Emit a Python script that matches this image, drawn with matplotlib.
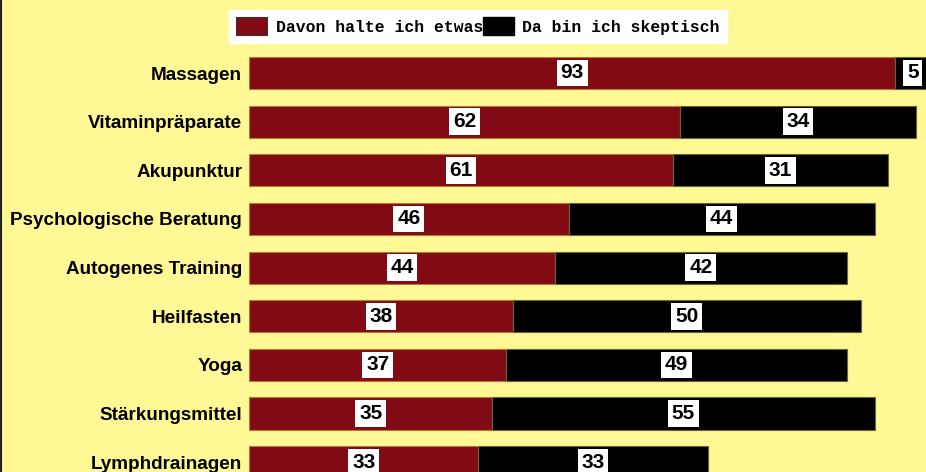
import matplotlib.pyplot as plt
from matplotlib.patches import Patch
from matplotlib.lines import Line2D

# Daten
kategorien = ['Massagen', 'Vitaminpräparate', 'Akupunktur', 'Psychologische Beratung',
              'Autogenes Training', 'Heilfasten', 'Yoga', 'Stärkungsmittel', 'Lymphdrainagen']
halte_etwas = [93, 62, 61, 46, 44, 38, 37, 35, 33]
skeptisch = [5, 34, 31, 44, 42, 50, 49, 55, 33]

rot = '#820a14'
gelb = '#fff894'

fig = plt.figure(figsize=(9.26, 4.72), dpi=100, facecolor=gelb)
ax = fig.add_axes([249 / 926, 0, 1 - 249 / 926, 1])
ax.set_facecolor(gelb)

y = list(range(len(kategorien)))
b1 = ax.barh(y, halte_etwas, height=0.66, color=rot, edgecolor='#b07a3a', linewidth=0.8)
b2 = ax.barh(y, skeptisch, left=halte_etwas, height=0.66, color='black',
             edgecolor='#6b6530', linewidth=0.8)

# Werte in weißen Kästchen
for bars in (b1, b2):
    for rect in bars:
        w = rect.get_width()
        ax.text(rect.get_x() + w / 2, rect.get_y() + rect.get_height() / 2, f'{w:.0f}',
                ha='center', va='center', fontsize=15, fontweight='bold',
                family='Liberation Sans', color='black',
                bbox=dict(boxstyle='square,pad=0.18', facecolor='white', edgecolor='none'))

ax.set_xlim(0, 677 / 6.95)
ax.set_ylim((472 - 73) / 48.65, -73 / 48.65)
ax.set_yticks(y)
ax.set_yticklabels(kategorien, fontsize=13.6, fontweight='bold', family='Liberation Sans')
ax.tick_params(axis='y', length=0, pad=5)
ax.set_xticks([])
for s in ax.spines.values():
    s.set_visible(False)

# Legende
handles = [Patch(facecolor=rot, edgecolor='#333333', linewidth=0.8),
           Patch(facecolor='black', edgecolor='black')]
leg = fig.legend(handles, ['Davon halte ich etwas', 'Da bin ich skeptisch'],
                 loc='upper center', bbox_to_anchor=(478 / 926, 0.997), ncol=2,
                 frameon=True, fancybox=False, framealpha=1, edgecolor='white',
                 handlelength=1.9, handleheight=1.35, handletextpad=0.5,
                 columnspacing=0.0, borderpad=0.45,
                 prop={'family': 'Liberation Mono', 'weight': 'bold', 'size': 11.8})

# dunkle Linie am linken Rand
fig.add_artist(Line2D([0.001, 0.001], [0, 1], color='#222222', linewidth=1.5,
                      transform=fig.transFigure))

plt.savefig('out.png', dpi=100, facecolor=gelb)
